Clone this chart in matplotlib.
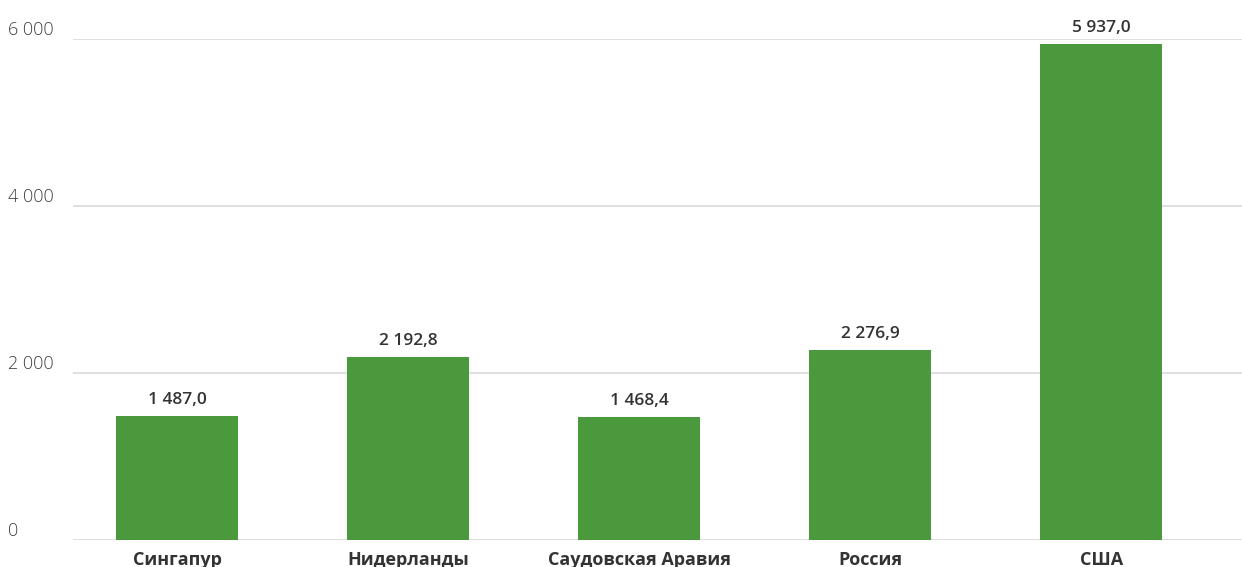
import numpy as np
import matplotlib
matplotlib.use("Agg")
from matplotlib import pyplot as plt, transforms

countries = ["Сингапур", "Нидерланды", "Саудовская Аравия", "Россия", "США"]
values = [1487.0, 2192.8, 1468.4, 2276.9, 5937.0]
yticks = [0, 2000, 4000, 6000]

green = "#4a9a3d"
plt.rcParams['font.family'] = ['Open Sans', 'DejaVu Sans']

fig = plt.figure(figsize=(12.42, 5.67), dpi=100)
ax = fig.add_axes([73/1242, 27/567, (1242-73)/1242, (540-39)/567])

x = np.arange(len(countries))
ax.bar(x, values, width=0.53, color=green, zorder=2)

ax.set_xlim(-0.45, 4.61)
ax.set_ylim(0, 6000)

for v in yticks:
    ax.axhline(v, color="#d9d9d9", lw=1.2, zorder=1)

def fmt(v, dec):
    s = f"{v:,.{dec}f}".replace(",", " ").replace(".", ",")
    return s

# y tick labels, drawn left of gridlines and slightly above
trans = transforms.blended_transform_factory(fig.transFigure, ax.transData)
off = transforms.offset_copy(trans, fig=fig, x=0, y=9, units="dots")
for v in yticks:
    ax.text(8/1242, v, fmt(v, 0), transform=off, ha="left", va="center",
            fontsize=13, color="#404040", fontweight="light", clip_on=False)

# value labels
for xi, v in zip(x, values):
    ax.annotate(fmt(v, 1), (xi, v), xytext=(0, 16), textcoords="offset pixels",
                ha="center", va="center", fontsize=12.5, color="#333333",
                fontweight="semibold", annotation_clip=False)

ax.set_xticks(x)
ax.set_xticklabels(countries, fontsize=13, fontweight="bold", color="#333333")
ax.tick_params(axis="x", length=0, pad=8)
ax.set_yticks([])
for s in ax.spines.values():
    s.set_visible(False)

fig.savefig("out.png", dpi=100)
